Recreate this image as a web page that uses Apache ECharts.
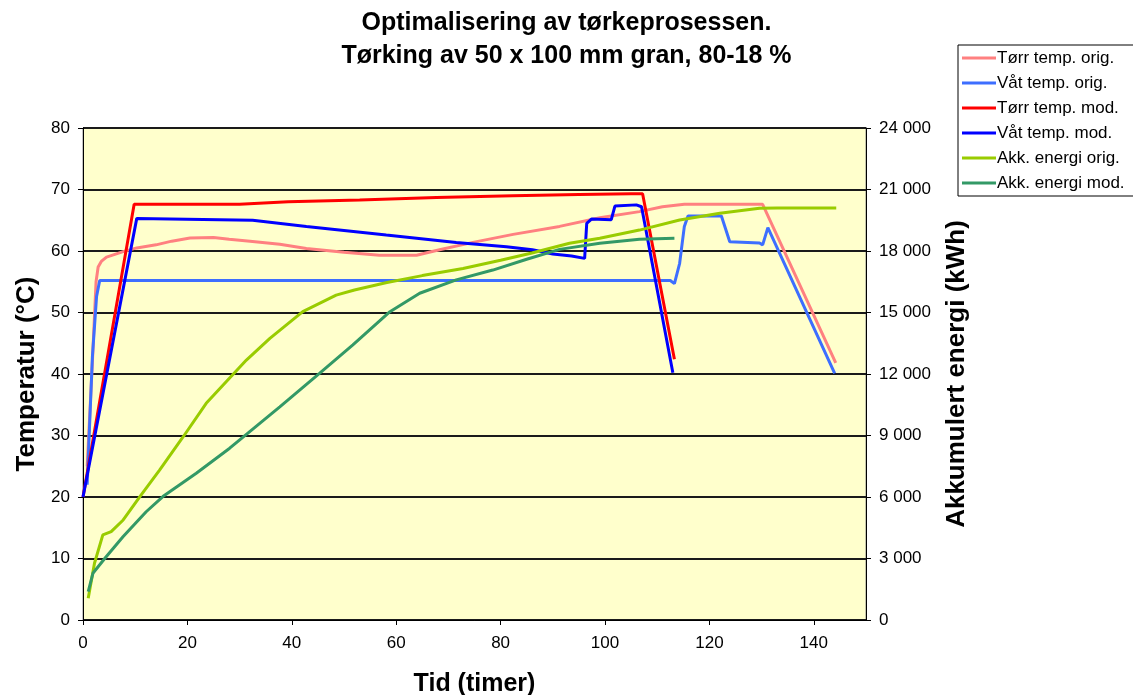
<!DOCTYPE html>
<html><head><meta charset="utf-8">
<script src="https://cdn.jsdelivr.net/npm/echarts@6/dist/echarts.min.js"></script>
<style>html,body{margin:0;padding:0;background:#fff}#c{width:1133px;height:695px}</style>
</head><body><div id="c"></div><script>
// ---- data ----
const titleLines = ['Optimalisering av tørkeprosessen.', 'Tørking av 50 x 100 mm gran, 80-18 %'];
const seriesNames = ['Tørr temp. orig.', 'Våt temp. orig.', 'Tørr temp. mod.', 'Våt temp. mod.', 'Akk. energi orig.', 'Akk. energi mod.'];
const xTickValues = [0, 20, 40, 60, 80, 100, 120, 140];

const torrOrigTime = [0.8, 1.8, 2.5, 2.9, 3.5, 4.5, 7.7, 10.3, 14, 17, 20.5, 25, 28, 32, 37.7, 42.8, 50, 56.8, 63.9, 68.3, 74.7, 82.4, 91.3, 99, 106.6, 111, 115.2, 122, 130.2, 144.2];
const torrOrigTemp = [25, 42, 55, 57.4, 58.3, 59.0, 59.9, 60.5, 61.0, 61.6, 62.1, 62.2, 61.9, 61.6, 61.1, 60.4, 59.8, 59.3, 59.3, 60.2, 61.4, 62.7, 64.0, 65.4, 66.4, 67.2, 67.6, 67.6, 67.6, 41.8];

const vatOrigTime = [0.8, 1.8, 2.6, 3.2, 112.5, 113.3, 114.3, 115.2, 115.9, 122.3, 123.9, 129.6, 130.2, 131.2, 144];
const vatOrigTemp = [22, 42.8, 52.6, 55.2, 55.2, 54.7, 58, 64, 65.7, 65.7, 61.5, 61.3, 61.0, 63.8, 40.1];

const torrModTime = [0, 9.8, 30, 39.3, 53, 67.7, 82.3, 95, 105, 107.2, 113.3];
const torrModTemp = [20, 67.6, 67.6, 68.0, 68.3, 68.7, 69.0, 69.2, 69.3, 69.3, 42.4];

const vatModTime = [0, 10.3, 32.5, 42.8, 58.1, 71.5, 81.1, 86.1, 90, 93.6, 96.1, 96.5, 97.4, 101.2, 101.9, 106, 107, 113];
const vatModTemp = [20, 65.3, 65.0, 64.0, 62.6, 61.4, 60.7, 60.2, 59.5, 59.2, 58.8, 64.5, 65.2, 65.1, 67.3, 67.5, 67.2, 40.2];

const energiOrigTime = [1, 2.2, 3.8, 5.4, 7.7, 10.9, 14.7, 19.2, 23.6, 31.3, 35.8, 42.1, 48.5, 52, 58, 65, 72.8, 80, 86, 93.2, 99, 106.6, 114.3, 122, 129.6, 133, 144.3];
const energiOrigKWh = [1060, 2770, 4150, 4310, 4880, 6020, 7320, 8940, 10570, 12680, 13740, 15040, 15850, 16100, 16450, 16800, 17150, 17550, 17900, 18375, 18620, 19020, 19510, 19840, 20080, 20100, 20100];

const energiModTime = [1, 1.9, 4.2, 7.7, 12.1, 15.3, 21.7, 28.1, 37.7, 45.3, 51.7, 58.8, 64.5, 71.5, 78.5, 85, 91.3, 99, 106.6, 113.3];
const energiModKWh = [1380, 2280, 3010, 4070, 5280, 6020, 7160, 8380, 10400, 12030, 13420, 15040, 15940, 16590, 17070, 17600, 18080, 18380, 18570, 18620];

// ---- build ----
const zip = (a, b) => a.map((v, i) => [v, b[i]]);
const colors = ['#FF8080', '#3D6EFF', '#FF0000', '#0000FF', '#99CC00', '#339966'];
const seriesData = [
  [zip(torrOrigTime, torrOrigTemp), 0],
  [zip(vatOrigTime, vatOrigTemp), 0],
  [zip(torrModTime, torrModTemp), 0],
  [zip(vatModTime, vatModTemp), 0],
  [zip(energiOrigTime, energiOrigKWh), 1],
  [zip(energiModTime, energiModKWh), 1]
];
const FONT = '"Liberation Sans", Arial, sans-serif';
const fmtThousands = v => String(v).replace(/\B(?=(\d{3})+(?!\d))/g, ' ');

const chart = echarts.init(document.getElementById('c'), null, {renderer: 'canvas'});
chart.setOption({
  animation: false,
  backgroundColor: '#fff',
  title: {
    text: titleLines.join('\n'),
    left: 'center', top: 7, padding: 0,
    textStyle: {fontFamily: FONT, fontWeight: 'bold', fontSize: 25, lineHeight: 33, color: '#000'}
  },
  legend: {
    orient: 'vertical', left: 958, top: 45,
    padding: [4, 20, 4, 4],
    backgroundColor: '#fff', borderColor: '#000', borderWidth: 1, borderRadius: 0,
    icon: 'rect', itemWidth: 34, itemHeight: 3, itemGap: 7,
    textStyle: {fontFamily: FONT, fontSize: 17, color: '#000', lineHeight: 18, padding: [0, 0, 0, -4]},
    data: seriesNames
  },
  grid: {
    left: 83, right: 267, top: 128, bottom: 75,
    outerBoundsMode: 'none',
    show: true, backgroundColor: '#FFFFCC', borderColor: '#888', borderWidth: 1
  },
  xAxis: {
    type: 'value', min: 0, max: 150, interval: 10,
    name: 'Tid (timer)', nameLocation: 'middle', nameGap: 52,
    nameTextStyle: {fontFamily: FONT, fontWeight: 'bold', fontSize: 25, color: '#000'},
    axisLine: {show: true, lineStyle: {color: '#000', width: 1}},
    axisTick: {show: true, length: 5, lineStyle: {color: '#000'}, customValues: xTickValues},
    axisLabel: {fontFamily: FONT, fontSize: 17, color: '#000', margin: 15, customValues: xTickValues},
    splitLine: {show: false}
  },
  yAxis: [
    {
      type: 'value', min: 0, max: 80, interval: 10, position: 'left',
      name: 'Temperatur (°C)', nameLocation: 'middle', nameGap: 40, nameRotate: 90,
      nameTextStyle: {fontFamily: FONT, fontWeight: 'bold', fontSize: 26, color: '#000'},
      axisLine: {show: true, lineStyle: {color: '#000', width: 1}},
      axisTick: {show: true, length: 5, lineStyle: {color: '#000'}},
      axisLabel: {fontFamily: FONT, fontSize: 17, color: '#000', margin: 13},
      splitLine: {show: true, lineStyle: {color: '#1a1a1a', width: 2}}
    },
    {
      type: 'value', min: 0, max: 24000, interval: 3000, position: 'right',
      name: 'Akkumulert energi (kWh)', nameLocation: 'middle', nameGap: 78, nameRotate: 90,
      nameTextStyle: {fontFamily: FONT, fontWeight: 'bold', fontSize: 26, color: '#000'},
      axisLine: {show: true, lineStyle: {color: '#000', width: 1}},
      axisTick: {show: true, length: 5, lineStyle: {color: '#000'}},
      axisLabel: {fontFamily: FONT, fontSize: 17, color: '#000', margin: 13, formatter: fmtThousands},
      splitLine: {show: false}
    }
  ],
  series: seriesData.map((d, i) => ({
    name: seriesNames[i], type: 'line', yAxisIndex: d[1], data: d[0],
    symbol: 'none', color: colors[i],
    lineStyle: {width: 3, color: colors[i]}
  }))
});
</script></body></html>
